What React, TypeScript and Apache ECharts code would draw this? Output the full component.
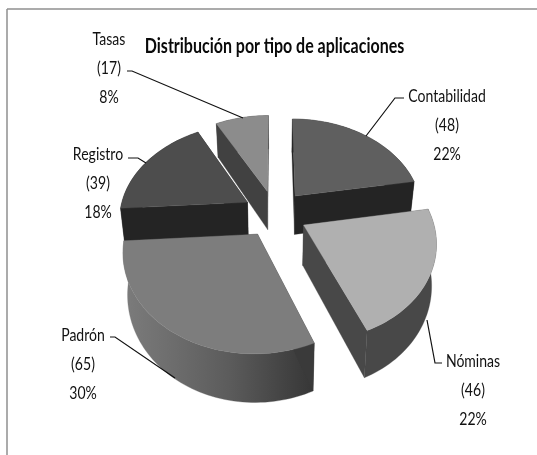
import React, { useEffect, useRef } from "react";
import * as echarts from "echarts";

const categories = ["Contabilidad", "Nóminas", "Padrón", "Registro", "Tasas"];
const values = [48, 46, 65, 39, 17];
const percents = ["22%", "22%", "30%", "18%", "8%"];
const titleText = "Distribución por tipo de aplicaciones";

const topColors = ["#5f5f5f", "#b0b0b0", "#7d7d7d", "#4d4d4d", "#8c8c8c"];
const faceColors = ["#242424", "#484848", "#3a3a3a", "#242424", "#414141"];
const paintOrder = [1, 3, 4, 2, 0];
const labelCenters = [[447, 95], [473, 360], [83, 334], [98, 153], [109, 38]];
const leaders = [
  [[404, 98], [395, 98], [366, 136]],
  [[442, 363], [435, 363], [427, 320]],
  [[110, 337], [115, 337], [175, 378]],
  [[128, 158], [138, 158], [146, 163]],
  [[127, 71], [132, 71], [243, 118]],
];

const CX = 275, CY = 213.5, RX = 128, RY = 94, K = 0.155, EXPLODE = 0.25, DEPTH = 39.5, NARROW = 0.97;
const total = values.reduce((a, b) => a + b, 0);

function project(pu: number, pw: number, down: boolean): number[] {
  const s = 1 / (1 + K * pw);
  return [CX + RX * pu * s * (down ? NARROW : 1), CY - RY * pw * s + (down ? DEPTH * s : 0)];
}

function renderSlice(params: any, api: any) {
  const i = params.dataIndex;
  let before = 0;
  for (let j = 0; j < i; j++) before += values[j];
  const a0 = (before / total) * Math.PI * 2;
  const a1 = ((before + api.value(0)) / total) * Math.PI * 2;
  const mid = (a0 + a1) / 2;
  const ou = EXPLODE * Math.sin(mid), ow = EXPLODE * Math.cos(mid);
  const arc: number[][] = [];
  const n = Math.ceil((a1 - a0) / 0.03);
  for (let t = 0; t <= n; t++) {
    const a = a0 + ((a1 - a0) * t) / n;
    arc.push([ou + Math.sin(a), ow + Math.cos(a)]);
  }
  const P = (p: number[], d: boolean) => project(p[0], p[1], d);
  const apex = [ou, ow];
  const topPts = [P(apex, false), ...arc.map((p) => P(p, false))];
  const wallPts = [...arc.map((p) => P(p, false)), ...arc.slice().reverse().map((p) => P(p, true))];
  const startFace = [P(apex, false), P(arc[0], false), P(arc[0], true), P(apex, true)];
  const endFace = [P(apex, false), P(arc[n], false), P(arc[n], true), P(apex, true)];
  const base = paintOrder[i] * 10 + 1;
  const wallFill = categories[i] === "Padrón"
    ? new echarts.graphic.LinearGradient(0, 0, 1, 0, [
        { offset: 0, color: "#7c7c7c" },
        { offset: 0.55, color: "#5c5c5c" },
        { offset: 1, color: "#363636" },
      ])
    : faceColors[i];
  const faces = [
    { w: arc[0][1] / 2 + ow / 2, pts: startFace },
    { w: arc[n][1] / 2 + ow / 2, pts: endFace },
  ].sort((a, b) => b.w - a.w);
  const poly = (points: number[][], fill: any, z2: number) => ({
    type: "polygon", z2, shape: { points }, style: { fill, stroke: fill, lineWidth: 0.3 },
  });
  const label = labelCenters[i];
  const line = leaders[i];
  return {
    type: "group",
    children: [
      poly(faces[0].pts, faceColors[i], base),
      poly(wallPts, wallFill, base + 1),
      poly(faces[1].pts, faceColors[i], base + 2),
      poly(topPts, topColors[i], base + 3),
      {
        type: "polyline", z2: 100, shape: { points: line },
        style: { fill: "none", stroke: "#111111", lineWidth: 1.2 },
      },
      {
        type: "text", z2: 101, x: label[0], y: label[1] - 14.5, scaleX: 0.78,
        style: {
          text: `${categories[i]}\n(${api.value(0)})\n${percents[i]}`,
          fontFamily: "Lato", fontSize: 18, lineHeight: 29,
          fill: "#111111", align: "center", verticalAlign: "top",
        },
      },
    ],
  };
}

export default function App() {
  const ref = useRef<HTMLDivElement>(null);
  useEffect(() => {
    const chart = echarts.init(ref.current!, undefined, { renderer: "svg" });
    chart.setOption({
      animation: false,
      backgroundColor: "#ffffff",
      graphic: [
        { type: "line", shape: { x1: 7, y1: 9, x2: 7, y2: 455 }, style: { stroke: "#8f8f8f", lineWidth: 1.5 } },
        { type: "line", shape: { x1: 7, y1: 9, x2: 537, y2: 9 }, style: { stroke: "#8f8f8f", lineWidth: 1.5 } },
        {
          type: "text", x: 274.5, y: 45, scaleX: 0.8,
          style: {
            text: titleText, fontFamily: "Lato", fontSize: 20, fontWeight: "bold",
            fill: "#0a0a0a", align: "center", verticalAlign: "middle",
          },
        },
      ],
      series: [{
        type: "custom", coordinateSystem: "none", renderItem: renderSlice,
        data: values.map((v) => [v]), silent: true,
      }],
    });
    return () => chart.dispose();
  }, []);
  return <div ref={ref} style={{ position: "absolute", left: 0, top: 0, width: 537, height: 455, filter: "blur(0.5px)" }} />;
}
